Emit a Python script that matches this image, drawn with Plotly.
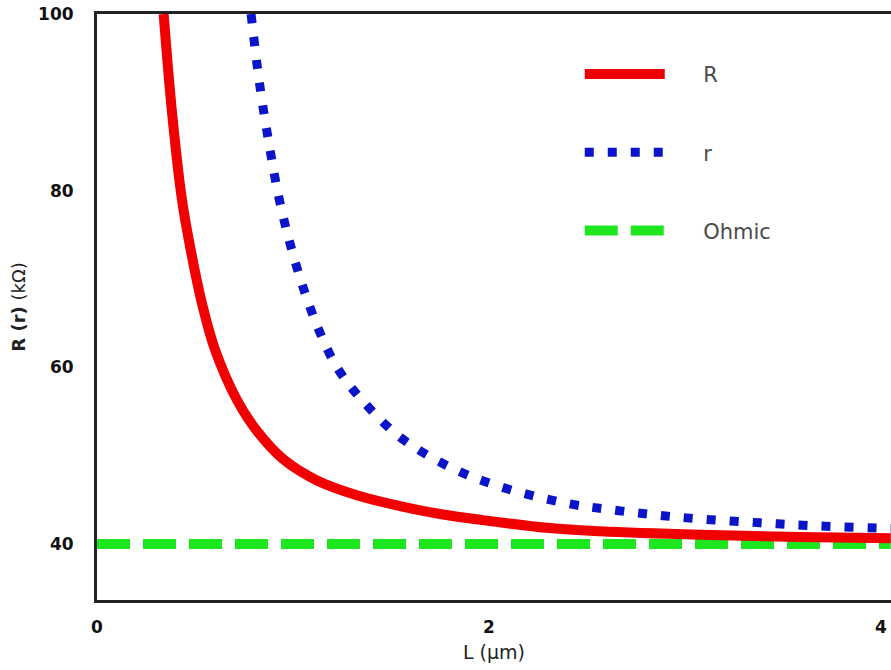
import plotly.graph_objects as go

# Red solid curve "R"
R_L = [0.34, 0.383, 0.434, 0.485, 0.536, 0.602, 0.714, 0.816, 0.95, 1.122, 1.33, 1.546, 1.75, 1.969, 2.311, 2.566, 3.077, 3.587, 4.05]
R_val = [100.0, 88.8, 78.9, 72.5, 67.2, 62.0, 56.3, 52.8, 49.6, 47.2, 45.5, 44.3, 43.4, 42.7, 41.8, 41.45, 41.05, 40.8, 40.65]

# Blue dotted curve "r"
r_L = [0.786, 0.83, 0.88, 0.93, 0.99, 1.06, 1.14, 1.23, 1.352, 1.546, 1.801, 2.056, 2.398, 2.653, 2.888, 3.128, 3.383, 3.622, 3.98, 4.05]
r_val = [100.0, 92.0, 85.0, 79.0, 73.6, 68.5, 63.8, 59.8, 56.3, 52.1, 48.7, 46.5, 44.6, 43.8, 43.2, 42.75, 42.4, 42.1, 41.8, 41.75]

# Green dashed "Ohmic"
ohm_L = [0.0, 4.05]
ohm_val = [40.0, 40.0]

x_ticks = [0, 2, 4]
y_ticks = [40, 60, 80, 100]

FONT = "DejaVu Sans"
PAD = "\u00a0" * 5

fig = go.Figure()
fig.add_trace(go.Scatter(x=ohm_L, y=ohm_val, mode="lines", name=PAD + "Ohmic",
                         line=dict(color="#1ee61e", width=10, dash="33px,13px"),
                         legendgroup="c", legendrank=3))
fig.add_trace(go.Scatter(x=R_L, y=R_val, mode="lines", name=PAD + "R",
                         line=dict(color="#f00000", width=10, shape="spline"),
                         legendgroup="a", legendrank=1))
fig.add_trace(go.Scatter(x=r_L, y=r_val, mode="lines", name=PAD + "r",
                         line=dict(color="#0a14c8", width=9, dash="9px,14px", shape="spline"),
                         legendgroup="b", legendrank=2))

fig.update_layout(
    width=891, height=670,
    margin=dict(l=97, r=0, t=14, b=70),
    paper_bgcolor="white", plot_bgcolor="white",
    font=dict(family=FONT, color="#222"),
    showlegend=True,
    legend=dict(x=0.608, y=0.932, xanchor="left", yanchor="top",
                bgcolor="rgba(0,0,0,0)", borderwidth=0,
                font=dict(family=FONT, size=21, color="#4a4a4a"),
                traceorder="grouped", tracegroupgap=48, itemwidth=80),
    xaxis=dict(range=[0, 4.051], tickvals=x_ticks, showgrid=False, zeroline=False,
               showline=True, linecolor="#222", linewidth=3, mirror=True,
               ticks="", ticklabelstandoff=10,
               tickfont=dict(family=FONT, size=17, color="#111", weight="bold"),
               title=dict(text="L (µm)", standoff=10,
                          font=dict(family=FONT, size=19, color="#222"))),
    yaxis=dict(range=[33.66, 100], tickvals=y_ticks, showgrid=False, zeroline=False,
               showline=True, linecolor="#222", linewidth=3, mirror=False,
               ticks="", ticklabelstandoff=17,
               tickfont=dict(family=FONT, size=17, color="#111", weight="bold"),
               title=dict(text="<b>R (r)</b> (kΩ)", standoff=8,
                          font=dict(family=FONT, size=18, color="#222"))),
)

fig.write_html("out.html")
